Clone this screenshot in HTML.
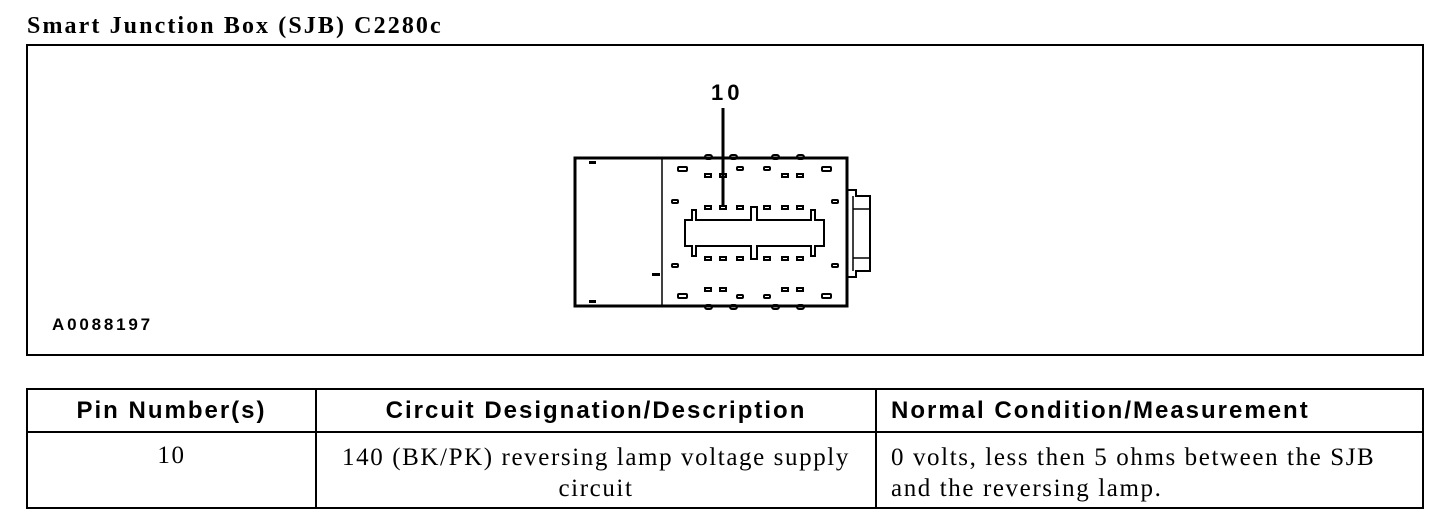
<!DOCTYPE html>
<html><head><meta charset="utf-8"><style>
body{margin:0;width:1456px;height:530px;background:#fff;overflow:hidden;position:relative}
.t{position:absolute;white-space:nowrap;color:#000}
.s{font-family:"Liberation Serif",serif;letter-spacing:1.6px}
.a{font-family:"Liberation Sans",sans-serif;letter-spacing:2px}
</style></head><body>
<div class="t s" style="left:27px;top:13px;font-size:24px;font-weight:bold;letter-spacing:2.1px">Smart Junction Box (SJB) C2280c</div>
<svg width="1456" height="530" style="position:absolute;left:0;top:0" fill="none" stroke="#000">
<rect x="27" y="45" width="1396" height="310" stroke-width="2"/>
<rect x="575" y="158" width="272" height="148" stroke-width="3"/>
<line x1="662" y1="158" x2="662" y2="306" stroke-width="1.5"/>
<path d="M847 190 H856 V196 H870 V271 H856 V277 H847" stroke-width="2"/>
<line x1="853" y1="196" x2="853" y2="271" stroke-width="1.5"/>
<line x1="853" y1="209" x2="870" y2="209" stroke-width="1.5"/>
<line x1="853" y1="258" x2="870" y2="258" stroke-width="1.5"/>
<path d="M685 220 H692 V210 H696 V220 H751 V207 H757 V220 H811 V210 H815 V220 H824 V246 H815 V256 H811 V246 H757 V259 H751 V246 H696 V256 H692 V246 H685 Z" stroke-width="2"/>
<line x1="723" y1="108" x2="723" y2="207" stroke-width="3"/>
<g fill="#000" stroke="none">
<rect x="589" y="161" width="7" height="3"/><rect x="589" y="300" width="7" height="3"/>
<rect x="652" y="273" width="8" height="3"/>
</g>
<g stroke-width="2">
<rect x="705" y="155" width="7" height="4" rx="2"/><rect x="730" y="155" width="7" height="4" rx="2"/><rect x="772" y="155" width="7" height="4" rx="2"/><rect x="797" y="155" width="7" height="4" rx="2"/>
<rect x="705" y="305" width="7" height="4" rx="2"/><rect x="730" y="305" width="7" height="4" rx="2"/><rect x="772" y="305" width="7" height="4" rx="2"/><rect x="797" y="305" width="7" height="4" rx="2"/>
<rect x="678" y="167" width="9" height="4" rx="1"/><rect x="737" y="167" width="6" height="3" rx="1"/><rect x="764" y="167" width="6" height="3" rx="1"/><rect x="822" y="167" width="9" height="4" rx="1"/>
<rect x="705" y="174" width="6" height="3"/><rect x="720" y="174" width="6" height="3"/><rect x="782" y="174" width="6" height="3"/><rect x="797" y="174" width="6" height="3"/>
<rect x="672" y="200" width="6" height="3" rx="1"/><rect x="832" y="200" width="6" height="3" rx="1"/>
<rect x="705" y="206" width="6" height="3"/><rect x="720" y="206" width="6" height="3"/><rect x="737" y="206" width="6" height="3"/><rect x="764" y="206" width="6" height="3"/><rect x="782" y="206" width="6" height="3"/><rect x="797" y="206" width="6" height="3"/>
<rect x="705" y="257" width="6" height="3"/><rect x="720" y="257" width="6" height="3"/><rect x="737" y="257" width="6" height="3"/><rect x="764" y="257" width="6" height="3"/><rect x="782" y="257" width="6" height="3"/><rect x="797" y="257" width="6" height="3"/>
<rect x="672" y="264" width="6" height="3" rx="1"/><rect x="832" y="264" width="6" height="3" rx="1"/>
<rect x="705" y="288" width="6" height="3"/><rect x="720" y="288" width="6" height="3"/><rect x="782" y="288" width="6" height="3"/><rect x="797" y="288" width="6" height="3"/>
<rect x="678" y="294" width="9" height="4" rx="1"/><rect x="737" y="295" width="6" height="3" rx="1"/><rect x="764" y="295" width="6" height="3" rx="1"/><rect x="822" y="294" width="9" height="4" rx="1"/>
</g>
<rect x="27" y="389" width="1396" height="119" stroke-width="2"/>
<line x1="27" y1="432" x2="1423" y2="432" stroke-width="2"/>
<line x1="316" y1="389" x2="316" y2="508" stroke-width="2"/>
<line x1="876" y1="389" x2="876" y2="508" stroke-width="2"/>
</svg>
<div class="t a" style="left:711px;top:80px;font-size:22px;font-weight:bold;letter-spacing:4px">10</div>
<div class="t a" style="left:52px;top:315px;font-size:17px;font-weight:bold;letter-spacing:2.8px">A0088197</div>
<div class="t a" style="left:27px;width:289px;text-align:center;top:397px;font-size:24px;font-weight:bold">Pin Number(s)</div>
<div class="t a" style="left:316px;width:560px;text-align:center;top:397px;font-size:24px;font-weight:bold">Circuit Designation/Description</div>
<div class="t a" style="left:891px;top:397px;font-size:24px;font-weight:bold">Normal Condition/Measurement</div>
<div class="t s" style="left:27px;width:289px;text-align:center;top:442px;font-size:25px">10</div>
<div class="t s" style="left:316px;width:560px;text-align:center;top:442px;font-size:25px;line-height:31px">140 (BK/PK) reversing lamp voltage supply<br>circuit</div>
<div class="t s" style="left:891px;top:442px;font-size:25px;line-height:31px">0 volts, less then 5 ohms between the SJB<br>and the reversing lamp.</div>
</body></html>
